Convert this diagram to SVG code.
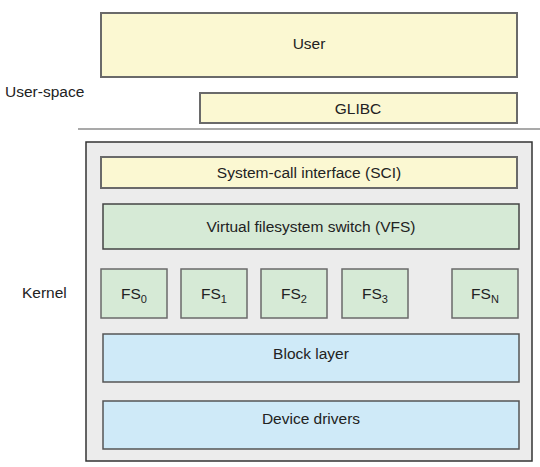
<svg xmlns="http://www.w3.org/2000/svg" width="540" height="467" viewBox="0 0 540 467">
<style>
text{font-family:"Liberation Sans",Arial,sans-serif;font-size:15.5px;fill:#222;text-anchor:middle}
.lbl{text-anchor:start}
.y{fill:#fbf8d2;stroke:#6a6a6a;stroke-width:2}
.g{fill:#d6ead6;stroke:#444;stroke-width:1.5}
.fs{fill:#d6ead6;stroke:#6a6a6a;stroke-width:1.5}
.b{fill:#cfeaf8;stroke:#555;stroke-width:1.5}
.sub{font-size:11px}
</style>
<rect width="540" height="467" fill="#fff"/>
<g id="labels">
<text class="lbl" x="5" y="97">User-space</text>
<text class="lbl" x="22" y="298">Kernel</text>
</g>
<g id="user"><rect class="y" x="101" y="13" width="416" height="64"/><text x="309" y="49">User</text></g>
<g id="glibc"><rect class="y" x="200" y="93" width="317" height="30"/><text x="358" y="114">GLIBC</text></g>
<g id="divider"><line x1="78" y1="129" x2="540" y2="129" stroke="#555" stroke-width="1.2"/></g>
<g id="kernel"><rect x="86" y="142" width="446" height="319" fill="#ececec" stroke="#333" stroke-width="1.5"/></g>
<g id="sci"><rect class="y" x="101" y="157" width="416" height="31"/><text x="309" y="178">System-call interface (SCI)</text></g>
<g id="vfs"><rect class="g" x="103" y="204" width="416" height="45"/><text x="311" y="232">Virtual filesystem switch (VFS)</text></g>
<g id="fs0"><rect class="fs" x="101" y="269" width="66" height="49"/><text x="134" y="299">FS<tspan class="sub" dy="4">0</tspan></text></g>
<g id="fs1"><rect class="fs" x="181" y="269" width="66" height="49"/><text x="214" y="299">FS<tspan class="sub" dy="4">1</tspan></text></g>
<g id="fs2"><rect class="fs" x="261" y="269" width="66" height="49"/><text x="294" y="299">FS<tspan class="sub" dy="4">2</tspan></text></g>
<g id="fs3"><rect class="fs" x="342" y="269" width="66" height="49"/><text x="375" y="299">FS<tspan class="sub" dy="4">3</tspan></text></g>
<g id="fsn"><rect class="fs" x="452" y="269" width="66" height="49"/><text x="485" y="299">FS<tspan class="sub" dy="4">N</tspan></text></g>
<g id="block"><rect class="b" x="103" y="334" width="416" height="48"/><text x="311" y="359">Block layer</text></g>
<g id="drivers"><rect class="b" x="103" y="401" width="416" height="48"/><text x="311" y="424">Device drivers</text></g>
<g id="connectors"></g>
</svg>
